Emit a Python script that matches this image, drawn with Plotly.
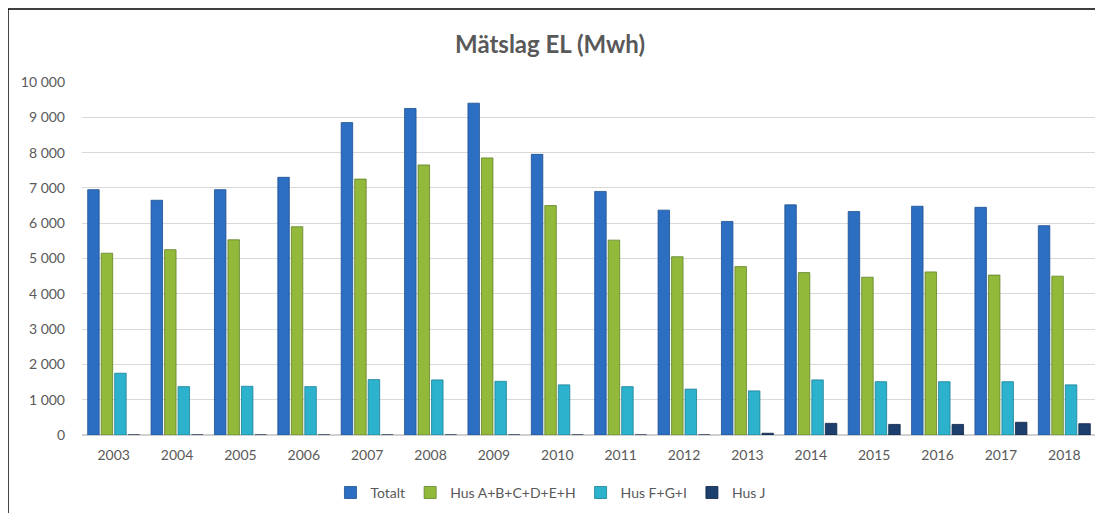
import plotly.graph_objects as go

years = [str(y) for y in range(2003, 2019)]
totalt = [6950, 6650, 6950, 7300, 8850, 9250, 9400, 7950, 6900, 6370, 6050, 6520, 6330, 6480, 6450, 5930]
hus_abcdeh = [5150, 5250, 5530, 5900, 7250, 7650, 7850, 6500, 5520, 5050, 4770, 4600, 4470, 4620, 4530, 4500]
hus_fgi = [1750, 1370, 1380, 1370, 1570, 1560, 1520, 1420, 1370, 1300, 1250, 1560, 1510, 1510, 1510, 1420]
hus_j = [0, 0, 0, 0, 0, 0, 0, 0, 0, 0, 50, 330, 300, 300, 360, 320]

series = [
    ("Totalt", totalt, "#2C6FC2", "#1D4F8F"),
    ("Hus A+B+C+D+E+H", hus_abcdeh, "#92B93A", "#62822A"),
    ("Hus F+G+I", hus_fgi, "#2DB2CE", "#1A7F96"),
    ("Hus J", hus_j, "#1D3F6E", "#0F2546"),
]

fig = go.Figure()
for name, vals, col, edge in series:
    fig.add_trace(go.Bar(
        x=years, y=vals, name=name,
        marker=dict(color=col, line=dict(color=edge, width=0.8)),
    ))

font_family = "Lato, 'Open Sans', sans-serif"
# the page adds an 8px body margin, so the figure is sized/offset to compensate
fig.update_layout(
    width=1095, height=505,
    paper_bgcolor="white", plot_bgcolor="white",
    margin=dict(l=74, r=7, t=74, b=78, autoexpand=False),
    barmode="group", bargap=0.148, bargroupgap=0.15,
    separators=", ",
    font=dict(family=font_family, color="#595959", size=14),
    title=dict(text="<b>Mätslag EL (Mwh)</b>", x=0.495, xanchor="center",
               y=0.928, yanchor="middle",
               font=dict(family=font_family, size=24, color="#595959")),
    legend=dict(orientation="h", x=0.462, xanchor="center",
                y=-0.164, yanchor="middle",
                font=dict(size=14, color="#595959"), itemwidth=30, traceorder="normal"),
    showlegend=True,
)
fig.update_yaxes(range=[0, 10000], dtick=1000, tickformat=",d",
                 showgrid=True, gridcolor="#D9D9D9", gridwidth=1,
                 zeroline=True, zerolinecolor="#D0D0D0", zerolinewidth=1.5,
                 ticks="", ticklen=0, ticklabelstandoff=16,
                 tickfont=dict(size=14, color="#595959"))
fig.update_xaxes(showgrid=False, showline=False, ticks="", ticklabelstandoff=10,
                 tickangle=0, tickfont=dict(size=14, color="#595959"))

fig.add_shape(type="rect", xref="paper", yref="paper",
              x0=-0.073, x1=1.006, y0=-0.3, y1=1.2068,
              line=dict(color="black", width=1.5), fillcolor="rgba(0,0,0,0)", layer="below")

fig.write_html("out.html")
